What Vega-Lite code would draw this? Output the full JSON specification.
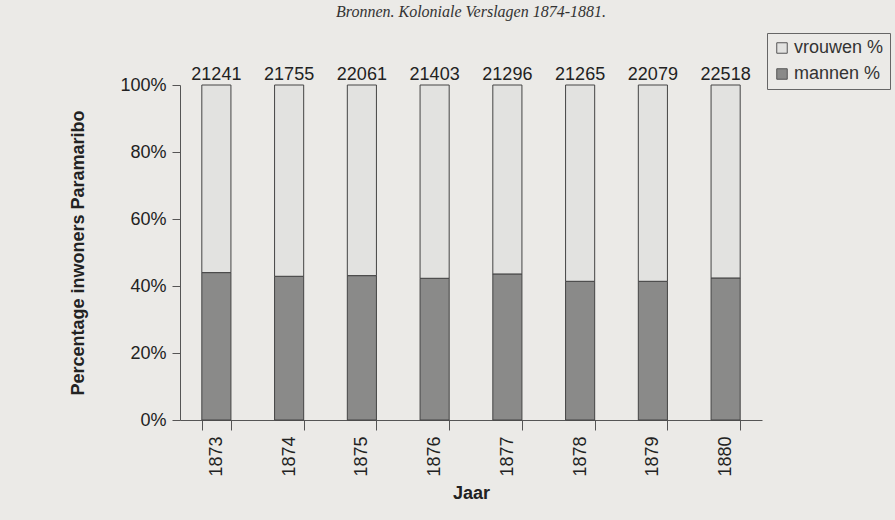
{
  "$schema": "https://vega.github.io/schema/vega-lite/v6.json",
  "autosize": {"type": "none"},
  "width": 582,
  "height": 335,
  "padding": {"left": 180, "top": 85, "right": 133, "bottom": 100},
  "background": "#ebeae7",
  "config": {
    "font": "Liberation Sans",
    "view": {"stroke": null},
    "axis": {"domainColor": "#555", "tickColor": "#555", "labelColor": "#222", "titleColor": "#222", "grid": false}
  },
  "title": {
    "text": "Bronnen. Koloniale Verslagen 1874-1881.",
    "font": "Liberation Serif",
    "fontStyle": "italic",
    "fontWeight": "normal",
    "fontSize": 16,
    "color": "#333",
    "anchor": "middle",
    "offset": 13
  },
  "datasets": {
    "aandeel": [
      {"jaar": "1873", "geslacht": "mannen %", "aandeel": 0.440},
      {"jaar": "1873", "geslacht": "vrouwen %", "aandeel": 0.560},
      {"jaar": "1874", "geslacht": "mannen %", "aandeel": 0.429},
      {"jaar": "1874", "geslacht": "vrouwen %", "aandeel": 0.571},
      {"jaar": "1875", "geslacht": "mannen %", "aandeel": 0.431},
      {"jaar": "1875", "geslacht": "vrouwen %", "aandeel": 0.569},
      {"jaar": "1876", "geslacht": "mannen %", "aandeel": 0.423},
      {"jaar": "1876", "geslacht": "vrouwen %", "aandeel": 0.577},
      {"jaar": "1877", "geslacht": "mannen %", "aandeel": 0.436},
      {"jaar": "1877", "geslacht": "vrouwen %", "aandeel": 0.564},
      {"jaar": "1878", "geslacht": "mannen %", "aandeel": 0.414},
      {"jaar": "1878", "geslacht": "vrouwen %", "aandeel": 0.586},
      {"jaar": "1879", "geslacht": "mannen %", "aandeel": 0.414},
      {"jaar": "1879", "geslacht": "vrouwen %", "aandeel": 0.586},
      {"jaar": "1880", "geslacht": "mannen %", "aandeel": 0.424},
      {"jaar": "1880", "geslacht": "vrouwen %", "aandeel": 0.576}
    ],
    "totaal": [
      {"jaar": "1873", "inwoners": 21241},
      {"jaar": "1874", "inwoners": 21755},
      {"jaar": "1875", "inwoners": 22061},
      {"jaar": "1876", "inwoners": 21403},
      {"jaar": "1877", "inwoners": 21296},
      {"jaar": "1878", "inwoners": 21265},
      {"jaar": "1879", "inwoners": 22079},
      {"jaar": "1880", "inwoners": 22518}
    ]
  },
  "layer": [
    {
      "data": {"name": "aandeel"},
      "mark": {"type": "bar", "stroke": "#444", "strokeWidth": 1},
      "encoding": {
        "x": {
          "field": "jaar", "type": "nominal", "title": "Jaar",
          "scale": {"paddingInner": 0.6, "paddingOuter": 0.3},
          "axis": {
            "labelAngle": -90, "labelAlign": "right", "labelBaseline": "middle",
            "labelFontSize": 18, "labelPadding": 6,
            "tickBand": "extent", "tickSize": 10,
            "titleFontSize": 18, "titleFontWeight": "bold", "titlePadding": 8
          }
        },
        "y": {
          "field": "aandeel", "type": "quantitative", "stack": true,
          "scale": {"domain": [0, 1]},
          "title": "Percentage inwoners Paramaribo",
          "axis": {
            "format": ".0%", "values": [0, 0.2, 0.4, 0.6, 0.8, 1],
            "labelFontSize": 18, "labelPadding": 6, "tickSize": 8,
            "titleFontSize": 18, "titleFontWeight": "bold", "titlePadding": 32
          }
        },
        "color": {
          "field": "geslacht", "type": "nominal",
          "scale": {"domain": ["vrouwen %", "mannen %"], "range": ["#e2e2e0", "#8a8a89"]},
          "legend": {
            "title": null, "orient": "none", "legendX": 587, "legendY": -52,
            "strokeColor": "#666", "padding": 6, "rowPadding": 8,
            "symbolType": "square", "symbolSize": 110, "symbolStrokeColor": "#555", "symbolStrokeWidth": 1,
            "labelFontSize": 18, "labelColor": "#333", "labelOffset": 3
          }
        },
        "order": {"field": "geslacht", "sort": "ascending"}
      }
    },
    {
      "data": {"name": "totaal"},
      "mark": {"type": "text", "dy": -1, "fontSize": 18, "color": "#222", "baseline": "bottom"},
      "encoding": {
        "x": {"field": "jaar", "type": "nominal"},
        "y": {"datum": 1},
        "text": {"field": "inwoners", "type": "quantitative", "format": "d"}
      }
    }
  ]
}
